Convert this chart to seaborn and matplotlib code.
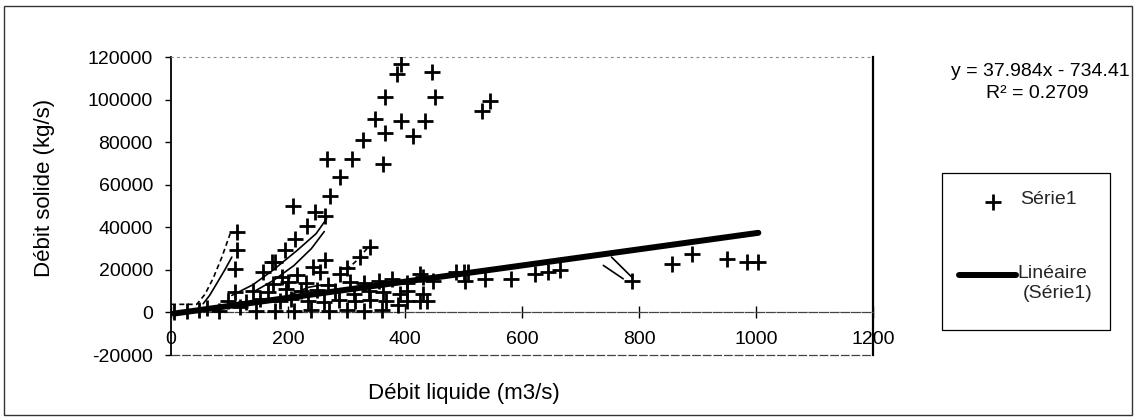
import numpy as np
import pandas as pd
import matplotlib
matplotlib.use("Agg")
import matplotlib.pyplot as plt
import seaborn as sns
from matplotlib.patches import Rectangle
from matplotlib.lines import Line2D

sns.set_theme(style="white")
plt.rcParams['font.family'] = ['Liberation Sans', 'DejaVu Sans']
plt.rcParams['axes.unicode_minus'] = False

# Débit liquide (m3/s) / débit solide (kg/s) — mesures
debit_liquide = [
    5, 28, 48, 62,
    82, 118, 146, 178, 210, 240, 270, 300, 330, 360, 388,
    98, 128, 152, 186, 205, 235, 262, 288, 314, 340, 368, 403, 426, 437,
    110, 140, 165, 196, 222, 250, 280, 312, 338, 362, 391, 403, 431,
    175, 200, 230, 268, 306, 330, 356, 377, 403, 431, 448,
    172, 189, 215, 243, 254, 263, 289, 300, 323, 340,
    109, 112, 112,
    158, 178, 195, 212, 232, 246, 263, 209, 272, 289, 267, 309, 362, 329,
    366, 413, 348, 394, 434, 366, 451, 386, 394, 446, 531, 545,
    426, 488, 500, 508, 503, 537, 582, 622, 645, 665, 788, 856, 890, 950,
    984, 1004,
]
debit_solide = [
    300, 600, 1200, 2200,
    900, 2500, 800, 900, 600, 1000, 800, 1200, 900, 1300, 3300,
    5200, 4800, 6400, 5600, 6400, 5600, 5000, 6000, 5400, 5800, 5600, 5600, 5200, 5600,
    9800, 10300, 9500, 10800, 10300, 10600, 10300, 8800, 10300, 9800, 8800, 10300, 8800,
    13500, 14500, 14000, 13000, 14200, 13800, 14600, 15800, 14000, 16600, 15000,
    23600, 16600, 17400, 21300, 18800, 24400, 18100, 21000, 26000, 30700,
    20500, 29100, 37700,
    18900, 23600, 29100, 34600, 40800, 47100, 45500, 50200, 54900, 63500, 72200, 72200, 69800, 81100,
    84200, 83100, 90900, 90100, 90100, 101400, 101100, 112000, 116800, 112800, 94800, 99500,
    18200, 18900, 19200, 18900, 15000, 15800, 15800, 18200, 18900, 19700, 15000, 22900, 27500, 25200,
    23600, 23600,
]

# Courbes tracées à la main sur le nuage (x, y, style)
courbes = [
    ([0, 44, 58, 72, 87, 101], [3800, 3800, 8500, 16000, 26000, 36900], (0, (3, 2))),
    ([55, 66, 78, 92, 104], [4100, 8000, 13500, 20000, 26000], '-'),
    ([104, 140, 175, 215, 248, 266], [8000, 13000, 20000, 29000, 37000, 44000], '-'),
    ([140, 175, 210, 240, 262], [9500, 15000, 22000, 30000, 38000], '-'),
    ([195, 215, 235, 255, 272], [7000, 9500, 11800, 12800, 13000], '-'),
    ([300, 318, 335], [20000, 24500, 30000], (0, (3, 2))),
    ([739, 773], [22100, 15800], '-'),
    ([753, 788], [26000, 16500], '-'),
]

# Tendance linéaire
pente = 37.984
ordonnee = -734.41
r2 = 0.2709

x_ticks = [0, 200, 400, 600, 800, 1000, 1200]
y_ticks = [-20000, 0, 20000, 40000, 60000, 80000, 100000, 120000]

W, H = 1137, 420
fig = plt.figure(figsize=(W / 100, H / 100), dpi=100)
fig.patch.set_facecolor('white')


def fx(px):
    return px / W


def fy(py):
    return 1 - py / H


ax = fig.add_axes([fx(171), fy(355), fx(873) - fx(171), fy(57) - fy(355)])
ax.set_facecolor('white')

df = pd.DataFrame({'Q': debit_liquide, 'Qs': debit_solide})

for cx, cy, ls in courbes:
    sns.lineplot(x=cx, y=cy, sort=False, color='black', linewidth=1.2,
                 linestyle=ls, ax=ax, legend=False)

sns.scatterplot(data=df, x='Q', y='Qs', marker='+', s=130, color='black',
                linewidth=2.0, ax=ax, legend=False, zorder=3)

xt = np.array([min(debit_liquide), max(debit_liquide)], dtype=float)
sns.lineplot(x=xt, y=pente * xt + ordonnee, color='black', linewidth=4.3,
             ax=ax, legend=False, zorder=4, solid_capstyle='round')

ax.set_xlim(0, 1200)
ax.set_ylim(-20000, 120000)
ax.set_xticks(x_ticks)
ax.set_xticklabels([str(v) for v in x_ticks])
ax.set_yticks(y_ticks)
ax.set_yticklabels([str(v) for v in y_ticks])
ax.set_xlabel('')
ax.set_ylabel('')

# Axe des abscisses passant par zéro
ax.spines['bottom'].set_position(('data', 0))
ax.spines['bottom'].set_color('#444444')
ax.spines['bottom'].set_linewidth(0.9)
ax.spines['bottom'].set_linestyle((0, (7, 1.5)))
ax.spines['left'].set_color('black')
ax.spines['left'].set_linewidth(1.3)
ax.spines['right'].set_color('black')
ax.spines['right'].set_linewidth(1.6)
ax.spines['top'].set_color('#888888')
ax.spines['top'].set_linewidth(0.8)
ax.spines['top'].set_linestyle((0, (1.5, 4)))
ax.axhline(-20000, color='#444444', linewidth=0.9, linestyle=(0, (7, 1.5)),
           clip_on=False, zorder=1)

ax.tick_params(axis='x', direction='inout', length=9, width=1, colors='black',
               labelsize=14, pad=9, bottom=True)
ax.tick_params(axis='y', direction='out', length=4.5, width=1, colors='black',
               labelsize=14, pad=8.5, left=True)

fig.text(fx(45), fy(188), 'Débit solide (kg/s)', rotation=90, ha='center',
         va='center', fontsize=16, color='black')
fig.text(fx(464), fy(393), 'Débit liquide (m3/s)', ha='center', va='center',
         fontsize=16, color='black')

# Équation et coefficient de détermination
signe = '-' if ordonnee < 0 else '+'
fig.text(fx(1130), fy(72), f'y = {pente}x {signe} {abs(ordonnee)}', ha='right',
         va='center', fontsize=14, color='black')
fig.text(fx(1037), fy(93), f'R² = {r2}', ha='center', va='center',
         fontsize=14, color='black')

# Légende
fig.add_artist(Rectangle((fx(942), fy(330)), fx(1110) - fx(942), fy(173) - fy(330),
                         transform=fig.transFigure, fill=False, edgecolor='black',
                         linewidth=0.9))
fig.add_artist(Line2D([fx(993)], [fy(202)], marker='+', markersize=11,
                      markeredgewidth=2.0, color='black', transform=fig.transFigure))
fig.text(fx(1020), fy(199), 'Série1', ha='left', va='center', fontsize=14)
fig.add_artist(Line2D([fx(959), fx(1016)], [fy(275), fy(275)], linewidth=4.3,
                      color='black', solid_capstyle='round', transform=fig.transFigure))
fig.text(fx(1017), fy(274), 'Linéaire', ha='left', va='center', fontsize=14)
fig.text(fx(1023), fy(294), '(Série1)', ha='left', va='center', fontsize=14)

# Cadre de la zone de graphique
fig.add_artist(Rectangle((fx(4), fy(415)), fx(1132) - fx(4), fy(6) - fy(415),
                         transform=fig.transFigure, fill=False, edgecolor='#333333',
                         linewidth=1.0))

fig.savefig('out.png', dpi=100, facecolor='white')
